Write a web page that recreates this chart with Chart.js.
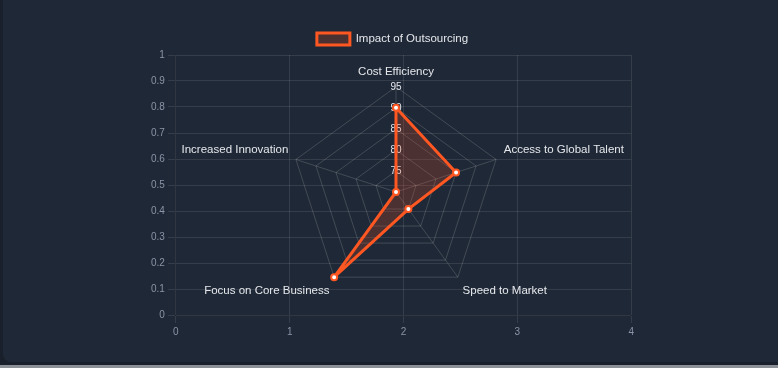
<!DOCTYPE html>
<html>
<head>
<meta charset="utf-8">
<script src="https://cdn.jsdelivr.net/npm/chart.js@4"></script>
<style>
  html, body { margin: 0; padding: 0; }
  body { width: 778px; height: 368px; background: #1a202b; position: relative; overflow: hidden; }
  #card { position: absolute; left: 3px; top: -12px; width: 800px; height: 374px; background: #1f2836; border-radius: 8px; }
  #strip { position: absolute; left: 0; top: 365px; width: 778px; height: 3px; background: #8b8f96; }
  #wrap { position: absolute; left: 148px; top: 22px; width: 489px; height: 319px; }
</style>
</head>
<body>
<div id="card"></div>
<div id="strip"></div>
<div id="wrap"><canvas id="radar-chart"></canvas></div>
<script>
// ====== DADOS ======
const categorias = ["Cost Efficiency", "Access to Global Talent", "Speed to Market", "Focus on Core Business", "Increased Innovation"];
const impacto = [90, 85, 75, 95, 70];
const serieNome = "Impact of Outsourcing";

const laranja = "rgba(255,87,34,1)";
const ctx = document.getElementById("radar-chart").getContext("2d");

new Chart(ctx, {
  type: "radar",
  data: {
    labels: categorias,
    datasets: [{
      label: serieNome,
      data: impacto,
      borderColor: laranja,
      backgroundColor: laranja.replace("1)", "0.2)"),
      borderWidth: 3,
      fill: true,
      pointRadius: 3,
      pointBackgroundColor: "#fff",
      pointBorderColor: laranja,
      pointBorderWidth: 2
    }]
  },
  options: {
    responsive: true,
    maintainAspectRatio: false,
    animation: false,
    layout: { padding: { top: 2 } },
    plugins: {
      legend: {
        labels: { color: "#e5e7eb", font: { size: 11.5 }, boxWidth: 33, boxHeight: 12, padding: 9 }
      }
    },
    scales: {
      r: {
        min: 70,
        max: 95,
        ticks: { stepSize: 5, color: "#e5e7eb", font: { size: 10 }, showLabelBackdrop: false },
        pointLabels: { color: "#e5e7eb", font: { size: 11.5 }, padding: 1 },
        grid: { color: "rgba(255,255,255,0.16)" },
        angleLines: { color: "rgba(255,255,255,0.16)" }
      },
      x: {
        type: "linear",
        position: "bottom",
        min: 0,
        max: 4,
        ticks: { stepSize: 1, color: "#8a94a6", font: { size: 10 } },
        grid: { color: "rgba(255,255,255,0.1)" }
      },
      y: {
        type: "linear",
        position: "left",
        min: 0,
        max: 1,
        ticks: { stepSize: 0.1, color: "#8a94a6", font: { size: 10 }, callback: v => String(+v.toFixed(1)) },
        grid: { color: "rgba(255,255,255,0.1)" }
      }
    }
  }
});
</script>
</body>
</html>
